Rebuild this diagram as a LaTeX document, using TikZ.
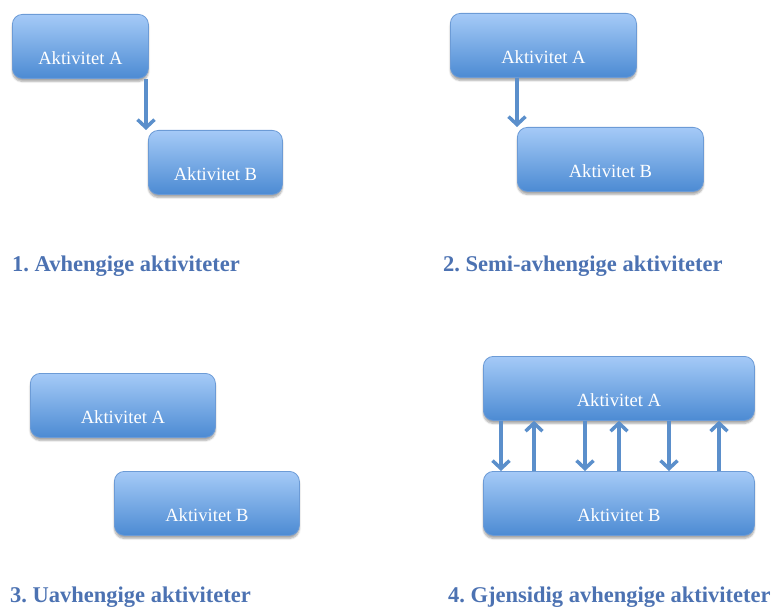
\documentclass[tikz,border=0pt]{standalone}
\usepackage{fontspec}
\setmainfont{Liberation Serif}
\newfontfamily\timesfont{Liberation Serif}
\usetikzlibrary{arrows.meta,shadows.blur}

\definecolor{boxtop}{HTML}{A5CAF7}
\definecolor{boxbot}{HTML}{4C8BD3}
\definecolor{boxline}{HTML}{6C9BD6}
\definecolor{pilblue}{HTML}{5B8FCB}
\definecolor{titelblue}{HTML}{4C72B2}

\tikzset{
    aktivitet/.style={draw=boxline, line width=0.8pt, rounded corners=10pt,
        top color=boxtop, bottom color=boxbot, text=white,
        font=\timesfont\fontsize{18.6}{18.6}\selectfont, anchor=north west,
        inner xsep=0pt, inner ysep=14pt, text height=36pt, text depth=0pt,
        minimum height=64pt,
        blur shadow={shadow xshift=0pt, shadow yshift=-3pt, shadow blur steps=6, shadow opacity=35}},
    pil/.style={pilblue, line width=4pt, -{Straight Barb[length=8pt,width=17pt,line width=3.5pt]}},
    titel/.style={titelblue, anchor=west, inner sep=0pt, font=\timesfont\fontsize{22.5}{22.5}\selectfont\bfseries}
}

\begin{document}
\frenchspacing
\begin{tikzpicture}[x=1pt, y=-1pt]
    \useasboundingbox (0, 0) rectangle (771, 607);

    % 1. Avhengige
    \node[aktivitet, minimum width=136pt] (a1) at (12, 14) {Aktivitet A};
    \node[aktivitet, minimum width=134pt] (b1) at (148, 130) {Aktivitet B};
    \draw[pil] ([xshift=-2pt]a1.south -| b1.west) -- ([xshift=-2pt]b1.north west);
    \node[titel] (t1) at (12, 266) {1. Avhengige aktiviteter};

    % 2. Semi-avhengige
    \node[aktivitet, minimum width=186pt] (a2) at (450, 13) {Aktivitet A};
    \node[aktivitet, minimum width=186pt] (b2) at (517, 127) {Aktivitet B};
    \draw[pil] (a2.south -| b2.west) -- (b2.north west);
    \node[titel] (t2) at (443, 266) {2. Semi-avhengige aktiviteter};

    % 3. Uavhengige
    \node[aktivitet, minimum width=185pt] (a3) at (30, 373) {Aktivitet A};
    \node[aktivitet, minimum width=185pt] (b3) at (114, 471) {Aktivitet B};
    \node[titel] (t3) at (10, 597) {3. Uavhengige aktiviteter};

    % 4. Gjensidig avhengige
    \node[aktivitet, minimum width=271pt] (a4) at (483, 356) {Aktivitet A};
    \node[aktivitet, minimum width=271pt] (b4) at (483, 471) {Aktivitet B};
    %% ned og opp
    \foreach \dx in {18, 102, 186} {
        \draw[pil] ([xshift=\dx pt]a4.south west) -- ([xshift=\dx pt]b4.north west);
    }
    \foreach \dx in {51, 136, 236} {
        \draw[pil] ([xshift=\dx pt]b4.north west) -- ([xshift=\dx pt]a4.south west);
    }
    \node[titel] (t4) at (448, 597) {4. Gjensidig avhengige aktiviteter};
\end{tikzpicture}
\end{document}
